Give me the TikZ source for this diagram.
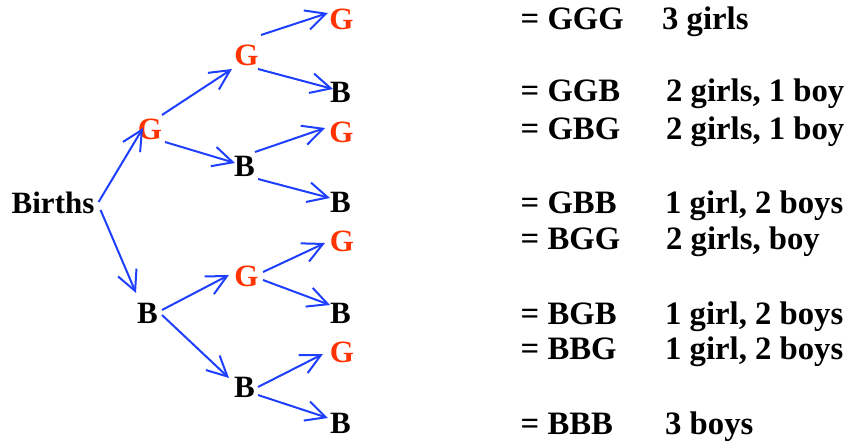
\documentclass[tikz,border=0pt]{standalone}
\usepackage{fontspec}
\setmainfont{Liberation Serif}
\usetikzlibrary{arrows.meta,calc}
\definecolor{arrblue}{RGB}{31,63,255}
\definecolor{gred}{RGB}{255,51,0}
\begin{document}
\begin{tikzpicture}[x=1pt,y=-1pt,
  lt/.style={inner sep=0pt, font=\fontsize{31}{37}\selectfont\bfseries},
  girl/.style={lt, text=gred},
  boy/.style={lt, text=black},
  rt/.style={inner sep=0pt, anchor=base west, font=\fontsize{32.7}{39}\selectfont\bfseries},
  arr/.style={draw=arrblue, line width=2pt, -{Straight Barb[length=20pt,width=20pt]}}]
\path[use as bounding box] (0,0) rectangle (844,442);

% root
\node[lt, anchor=base west] (births) at (11.5,213) {Births};

% level 1
\node[girl] (g1) at (150,129) {G};
\node[boy]  (b1) at (147.5,313) {B};

% level 2
\node[girl] (g2a) at (246.5,55) {G};
\node[boy]  (b2a) at (244.5,166) {B};
\node[girl] (g2c) at (246.5,276) {G};
\node[boy]  (b2d) at (244.5,387) {B};

% level 3
\node[girl] (g3a) at (341.5,19) {G};
\node[boy]  (b3a) at (340.5,92.5) {B};
\node[girl] (g3b) at (341.5,132.5) {G};
\node[boy]  (b3b) at (340.5,202.5) {B};
\node[girl] (g3c) at (342,241) {G};
\node[boy]  (b3c) at (340.5,313) {B};
\node[girl] (g3d) at (342,352) {G};
\node[boy]  (b3d) at (340.5,423) {B};

% connectors
\draw[arr] ($(births.base east)+(4,-11)$) -- ($(g1)+(-7,-1)$);
\draw[arr] ($(births.base east)+(6,-3)$) -- ($(b1)+(-11.5,-20)$);
\draw[arr] ($(g1)+(12,-14)$) -- ($(g2a)+(-14.5,14)$);
\draw[arr] ($(g1)+(15,13)$) -- ($(b2a)+(-9.5,-3)$);
\draw[arr] ($(g2a)+(14.5,-20)$) -- ($(g3a)+(-13.5,-6)$);
\draw[arr] ($(g2a)+(11.5,14)$) -- ($(b3a)+(-7.5,-3.5)$);
\draw[arr] ($(b2a)+(10.5,-14)$) -- ($(g3b)+(-16.5,-4.5)$);
\draw[arr] ($(b2a)+(13.5,13)$) -- ($(b3b)+(-10.5,-4.5)$);
\draw[arr] ($(b1)+(14.5,-3)$) -- ($(g2c)+(-17.5,-1)$);
\draw[arr] ($(b1)+(14.5,2)$) -- ($(b2d)+(-15.5,-9)$);
\draw[arr] ($(g2c)+(16.5,-4)$) -- ($(g3c)+(-17,2)$);
\draw[arr] ($(g2c)+(16.5,4)$) -- ($(b3c)+(-10.5,-8)$);
\draw[arr] ($(b2d)+(13.5,0)$) -- ($(g3d)+(-19,2)$);
\draw[arr] ($(b2d)+(13.5,8)$) -- ($(b3d)+(-12.5,-5)$);

% outcomes
\node[rt] (o1) at (520.5,29.5) {= GGG};
\node[rt] (d1) at (662,29.5) {3 girls};
\node[rt] (o2) at (520.5,101.5) {= GGB};
\node[rt] (d2) at (666,101.5) {2 girls, 1 boy};
\node[rt] (o3) at (520.5,139) {= GBG};
\node[rt] (d3) at (666,139) {2 girls, 1 boy};
\node[rt] (o4) at (520.5,213) {= GBB};
\node[rt] (d4) at (665,213) {1 girl, 2 boys};
\node[rt] (o5) at (520.5,249) {= BGG};
\node[rt] (d5) at (666,249) {2 girls, boy};
\node[rt] (o6) at (520.5,324) {= BGB};
\node[rt] (d6) at (665,324) {1 girl, 2 boys};
\node[rt] (o7) at (520.5,359) {= BBG};
\node[rt] (d7) at (665,359) {1 girl, 2 boys};
\node[rt] (o8) at (520.5,434) {= BBB};
\node[rt] (d8) at (665,434) {3 boys};
\end{tikzpicture}
\end{document}
